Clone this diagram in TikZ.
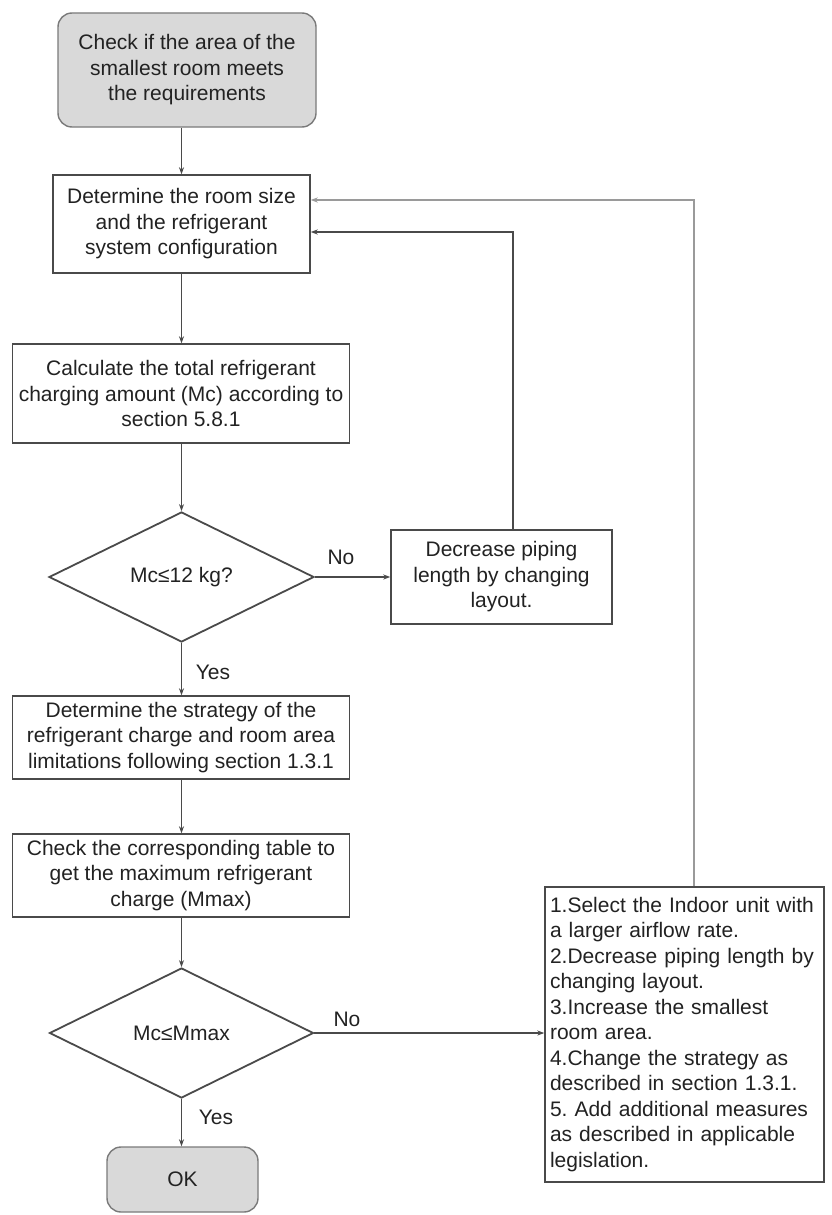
\documentclass[tikz,border=0pt]{standalone}
\usepackage{fontspec}
\setmainfont{Liberation Sans}
\usetikzlibrary{shapes.geometric,arrows.meta}
\frenchspacing
\definecolor{boxline}{HTML}{4A4A4A}
\definecolor{txt}{HTML}{222222}
\definecolor{termfill}{HTML}{D9D9D9}
\definecolor{termline}{HTML}{7A7A7A}
\definecolor{conn}{HTML}{4A4A4A}
\definecolor{lightconn}{HTML}{9A9A9A}
\tikzset{
  base/.style={font=\fontsize{21}{25.5}\selectfont, text=txt, inner sep=0pt},
  procbox/.style={base, draw=boxline, line width=1.4pt, align=center},
  termbox/.style={base, draw=termline, fill=termfill, line width=1.4pt, rounded corners=14pt, align=center},
  decision/.style={base, diamond, draw=boxline, line width=1.8pt, inner sep=0pt},
  lbl/.style={base},
  arr/.style={draw=conn, line width=1.1pt, -{Stealth[length=7pt,width=5pt]}},
  lightarr/.style={draw=lightconn, line width=1.1pt, -{Stealth[length=7pt,width=5pt]}},
}
\begin{document}
\begin{tikzpicture}[x=1pt,y=-1pt]
\fill[white] (0,0) rectangle (832,1215);
\useasboundingbox (0,0) rectangle (832,1215);

\node[termbox, minimum width=258pt, minimum height=114pt] (start) at (187,70)
  {Check if the area of the\\smallest room meets\\the requirements};
\node[procbox, minimum width=257pt, minimum height=98pt] (b2) at (181.5,224)
  {Determine the room size\\and the refrigerant\\system configuration};
\node[procbox, minimum width=337pt, minimum height=99pt] (b3) at (181,393.5)
  {Calculate the total refrigerant\\charging amount (Mc) according to\\section 5.8.1};
\node[decision, minimum width=265pt, minimum height=130pt] (d1) at (181.5,577)
  {Mc≤12 kg?};
\node[procbox, minimum width=221pt, minimum height=94pt] (b4) at (501.5,577)
  {Decrease piping\\length by changing\\layout.};
\node[procbox, minimum width=337pt, minimum height=83pt] (b5) at (181,737.5)
  {Determine the strategy of the\\refrigerant charge and room area\\limitations following section 1.3.1};
\node[procbox, minimum width=337pt, minimum height=83pt] (b6) at (181,875.5)
  {Check the corresponding table to\\get the maximum refrigerant\\charge (Mmax)};
\node[decision, minimum width=264pt, minimum height=130pt] (d2) at (181.5,1033)
  {Mc≤Mmax};
\node[termbox, minimum width=151pt, minimum height=65pt] (ok) at (182.5,1179.5) {OK};
\node[procbox, align=left, text width=269pt,
  minimum height=295pt, inner xsep=5pt, inner ysep=0pt] (b7) at (684.5,1034.5)
  {1.Select the Indoor unit with\\a larger airflow rate.\\2.Decrease piping length by\\changing layout.\\3.Increase the smallest\\room area.\\4.Change the strategy as\\described in section 1.3.1.\\5. Add additional measures\\as described in applicable\\legislation.};

\coordinate (t1) at (513,232);
\coordinate (t2) at (694,200);

\draw[arr] (start.south -| b2.north) -- (b2.north);
\draw[arr] (b2.south) -- (b2.south |- b3.north);
\draw[arr] (b3.south -| d1.north) -- (d1.north);
\draw[arr] (d1.east) -- (d1.east -| b4.west);
\draw[arr] (d1.south) -- (d1.south |- b5.north);
\draw[arr] (b5.south -| d1.south) -- (b6.north -| d1.south);
\draw[arr] (b6.south -| d2.north) -- (d2.north);
\draw[arr] (d2.south) -- (d2.south |- ok.north);
\draw[arr] (d2.east) -- (d2.east -| b7.west);
\draw[arr] (b4.north -| t1) -- (t1) -- (t1 -| b2.east);
\draw[lightarr] (b7.north -| t2) -- (t2) -- (t2 -| b2.east);

\node[lbl] (no1) at (341,557) {No};
\node[lbl] (yes1) at (213,672) {Yes};
\node[lbl] (no2) at (347,1019) {No};
\node[lbl] (yes2) at (216,1117) {Yes};
\end{tikzpicture}
\end{document}
